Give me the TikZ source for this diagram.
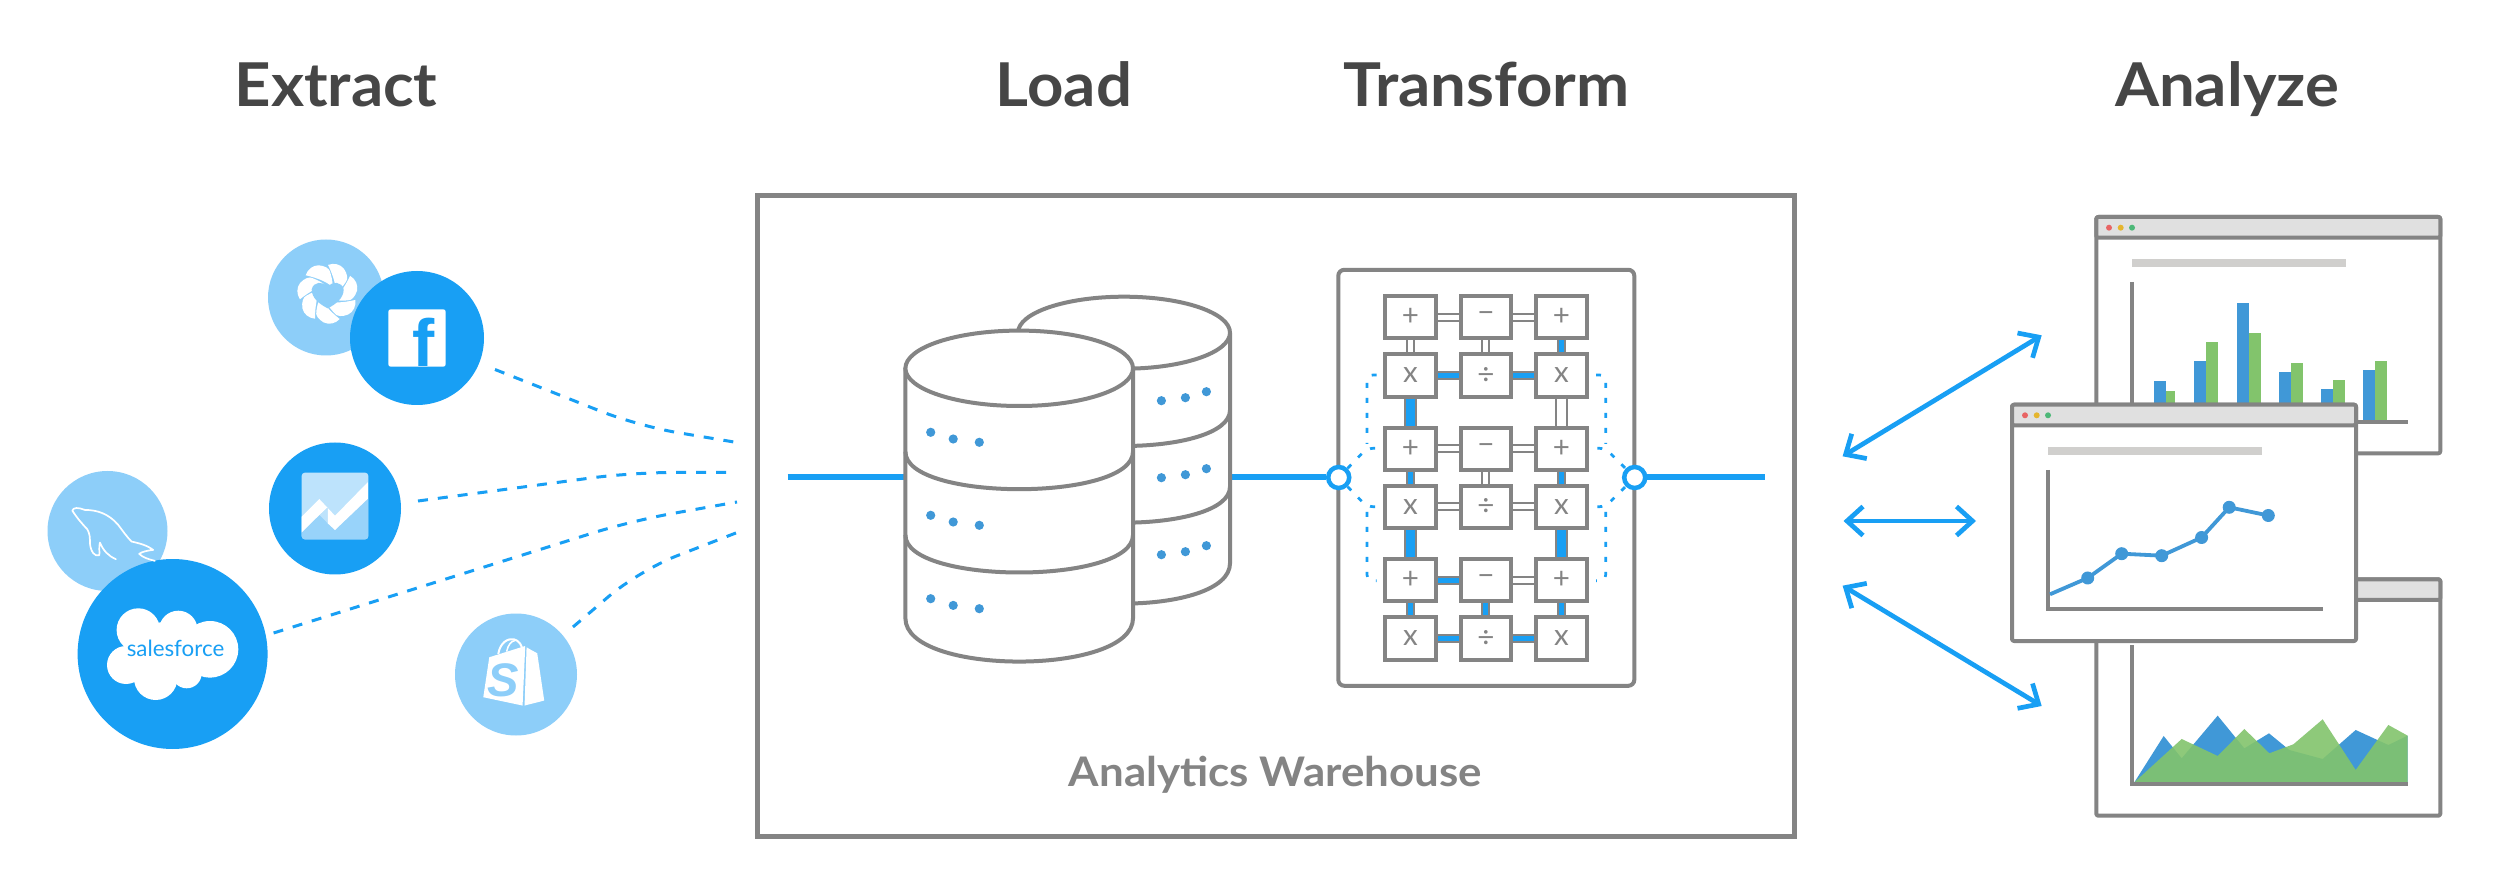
\documentclass[tikz,border=0pt]{standalone}
\usepackage{fontspec}
\setmainfont{Lato}
\newfontfamily\libsans{Liberation Sans}
\newfontfamily\headfont[FakeStretch=1.05]{Lato}
\newfontfamily\wfont[FakeStretch=1.076]{Lato}
\usetikzlibrary{arrows.meta,shapes.geometric}
\definecolor{skyb}{HTML}{189FF4}
\definecolor{lightb}{HTML}{8DCEF9}
\definecolor{paleb}{HTML}{BDE3FC}
\definecolor{gr}{HTML}{848484}
\definecolor{titlec}{HTML}{464646}
\definecolor{barb}{HTML}{4098D7}
\definecolor{barg}{HTML}{82C46C}
\definecolor{chrome}{HTML}{E0E0E0}
\definecolor{rulec}{HTML}{D0CFCD}
\definecolor{dotr}{HTML}{E86464}
\definecolor{doty}{HTML}{E5B52E}
\definecolor{dotg}{HTML}{4DB878}
\tikzset{
  titletext/.style={font=\headfont\bfseries\fontsize{17.2pt}{20pt}\selectfont,text=titlec,anchor=base,inner sep=0},
  wtext/.style={font=\wfont\bfseries\fontsize{11.6pt}{13pt}\selectfont,text=gr,anchor=base,inner sep=0},
  opbox/.style={draw=gr,fill=white,line width=.42mm,minimum width=5.03mm,minimum height=4.23mm,inner sep=0,text=gr,font=\fontsize{8.4pt}{9pt}\selectfont},
  wconn/.style={draw=gr,line width=.2mm,double=white,double distance=.5mm},
  bconn/.style={draw=gr,line width=.2mm,double=skyb,double distance=.5mm},
  wfat/.style={draw=gr,line width=.2mm,double=white,double distance=.9mm},
  bfat/.style={draw=gr,line width=.2mm,double=skyb,double distance=.9mm},
  srcdark/.style={circle,fill=skyb,inner sep=0},
  srclight/.style={circle,fill=lightb,inner sep=0},
  feed/.style={draw=skyb,line width=.3mm,dash pattern=on 1mm off 1mm,rounded corners=4mm},
  inner/.style={draw=skyb,line width=.27mm,dash pattern=on .5mm off 1mm,rounded corners=.6mm},
  flow/.style={draw=skyb,line width=.6mm},
  port/.style={circle,draw=skyb,fill=white,line width=.45mm,minimum size=2.1mm,inner sep=0},
  cyl/.style={draw=gr,fill=white,line width=.4mm,line join=round},
  winframe/.style={draw=gr,fill=white,line width=.4mm,line join=round},
  winbar/.style={draw=gr,fill=chrome,line width=.4mm,line join=round},
  axisline/.style={draw=gr,line width=.4mm},
  biarrow/.style={draw=skyb,line width=.47mm,{Straight Barb[length=1.6mm,width=2.9mm]}-{Straight Barb[length=1.6mm,width=2.9mm]}},
  tri/.style={shift={(2000,540)},xscale=.33333,yscale=.33333},
  trib/.style={shift={(2000,200)},xscale=.33333,yscale=.33333},
}
\begin{document}
\begin{tikzpicture}[x=.1mm,y=-.1mm]
\useasboundingbox (0,0) rectangle (2500,886);
\fill[white] (0,0) rectangle (2500,886);

% titles
\node[titletext] (tE) at (336,106.7) {Extract};
\node[titletext] (tL) at (1064,106.7) {Load};
\node[titletext] (tT) at (1486.6,106.7) {Transform};
\node[titletext] (tA) at (2227,106.7) {Analyze};

% warehouse
\node[draw=gr,line width=.5mm,minimum width=103.75mm,minimum height=64.07mm,inner sep=0] (wh) at (1275.75,516.35) {};
\node[wtext] (wl) at (1275.3,786) {Analytics Warehouse};

% source circles
\node[srclight,minimum size=11.6mm] (cFlower) at (326,297.5) {};
\node[srclight,minimum size=12mm] (cMy) at (107.5,531) {};
\node[srclight,minimum size=12.2mm] (cShop) at (516,674.5) {};
\node[srcdark,minimum size=13.4mm] (cFb) at (417,338) {};
\node[srcdark,minimum size=13.2mm] (cGa) at (335,508.5) {};
\node[srcdark,minimum size=19mm] (cSf) at (172.6,654) {};

% flower icon
\begin{scope}[shift={(327.7,293.3)}]
\foreach \k in {0,...,6}{
  \fill[white,rotate=\k*51.43] (-22,-18) .. controls (-20,-24) and (-15,-28) .. (-9,-28) .. controls (-3,-27.5) and (2,-25) .. (2.5,-21) .. controls (4,-16) and (5,-12) .. (5,-6) .. controls (0,-11) and (-9,-15) .. (-22,-18) -- cycle;
}
\fill[lightb] (0,-7) .. controls (-5,-12) and (-14,-12) .. (-16,-4) .. controls (-16,5) and (-8,11) .. (0,15) .. controls (8,11) and (16,5) .. (16,-4) .. controls (14,-12) and (5,-12) .. (0,-7) -- cycle;
\end{scope}

% facebook icon
\fill[white,rounded corners=.25mm] (388.3,309.3) rectangle (445.7,366.7);
\node[inner sep=0,anchor=base,text=skyb,font=\libsans\bfseries\fontsize{19pt}{20pt}\selectfont] (fbf) at (424,366.7) {f};

% analytics icon
\fill[paleb,rounded corners=.3mm] (301.7,472.7) rectangle (368.3,539.3);
\begin{scope}
\clip[rounded corners=.3mm] (301.7,472.7) rectangle (368.3,539.3);
\fill[lightb!90!white] (301.7,532.3) -- (319.3,515) -- (335,530) -- (368.3,498.3) -- (368.3,539.3) -- (301.7,539.3) -- cycle;
\fill[white] (301.7,516.7) -- (319.3,499) -- (335,515.7) -- (368.3,481.7) -- (368.3,498.3) -- (335,530) -- (327.7,523.3) -- (327.7,507.3) -- (319.3,515) -- (301.7,532.3) -- cycle;
\fill[paleb] (320,515) -- (327.7,507.3) -- (327.7,523.3) -- cycle;
\end{scope}

% mysql icon
\begin{scope}[shift={(40,460)},x=.0333mm,y=-.0333mm]
\draw[white,line width=.17mm,line cap=round,line join=round]
 (228,298) .. controls (205,288) and (190,272) .. (180,248) .. controls (176,262) and (180,280) .. (178,286)
 .. controls (165,292) and (152,275) .. (150,250) .. controls (150,232) and (150,222) .. (142,208)
 .. controls (125,190) and (112,175) .. (97,152) .. controls (100,142) and (115,142) .. (135,150)
 .. controls (170,150) and (205,160) .. (235,195) .. controls (250,215) and (262,232) .. (275,245)
 .. controls (300,250) and (325,258) .. (340,270) .. controls (322,272) and (305,276) .. (298,282)
 .. controls (308,292) and (325,298) .. (345,303);
\end{scope}

% salesforce icon
\begin{scope}
\fill[white] (138.3,630) circle [radius=21.7];
\fill[white] (178.3,630) circle [radius=19.3];
\fill[white] (210,649.3) circle [radius=28.3];
\fill[white] (126,665) circle [radius=19];
\fill[white] (155.7,678.3) circle [radius=21.7];
\fill[white] (186.7,673.3) circle [radius=15];
\fill[white] (165,652) circle [radius=30];
\end{scope}
\node[inner sep=0,anchor=base,text=skyb,font=\fontsize{6.35pt}{8pt}\selectfont] (sfl) at (175.5,656.7) {salesforce};

% shopify icon
\begin{scope}[shift={(450,610)},x=.0333mm,y=-.0333mm]
\fill[white] (118,142) -- (226,108) -- (218,287) -- (100,262) -- cycle;
\fill[white] (230,112) -- (240,118) -- (262,130) -- (283,272) -- (224,287) -- cycle;
\draw[white,line width=.2mm] (145,132) .. controls (150,100) and (172,84) .. (192,88) .. controls (208,92) and (216,106) .. (217,120);
\draw[white,line width=.15mm] (170,125) .. controls (174,105) and (185,92) .. (195,92);
\end{scope}
\node[inner sep=0,anchor=base,text=lightb,font=\libsans\bfseries\itshape\fontsize{13.4pt}{14pt}\selectfont] (shs) at (503.5,696) {S};

% feeds
\coordinate (f1a) at (495,369.5); \coordinate (f1b) at (638,426); \coordinate (f1c) at (740,443);
\coordinate (f2a) at (418,501);   \coordinate (f2b) at (632,472.5); \coordinate (f2c) at (734,472.5);
\coordinate (f3a) at (273.6,633); \coordinate (f3b) at (632,520.7); \coordinate (f3c) at (737,502);
\coordinate (f4a) at (573,627);   \coordinate (f4b) at (639,570.5); \coordinate (f4c) at (740,531.4);
\draw[feed] (f1a) -- (f1b) -- (f1c);
\draw[feed] (f2a) -- (f2b) -- (f2c);
\draw[feed] (f3a) -- (f3b) -- (f3c);
\draw[feed] (f4a) -- (f4b) -- (f4c);

% main flow
\coordinate (flowL) at (787.5,477.5);
\coordinate (flowR) at (1765,477.5);
\node[draw=gr,fill=white,line width=.4mm,rounded corners=.6mm,minimum width=29.6mm,minimum height=41.6mm,inner sep=0] (tbox) at (1486.3,477.8) {};
\node[port] (pL) at (1338.7,477.5) {};
\node[port] (pR) at (1634.7,477.5) {};
\draw[flow] (flowL) -- (pL);
\draw[flow] (pR) -- (flowR);

% back cylinder
\draw[cyl] (1018,332.7) -- (1018,563.3) .. controls (1018,617) and (1230,617) .. (1230,563.3) -- (1230,332.7) -- cycle;
\foreach \yy in {410,486.7}{
  \draw[cyl,fill=none] (1018,\yy) .. controls (1018,\yy+48) and (1230,\yy+48) .. (1230,\yy);
}
\draw[cyl] (1124,332.7) ellipse [x radius=106,y radius=36];
\foreach \yy in {0,77,154}{
  \fill[barb] (1161.4,400.7+\yy) circle [radius=4.6];
  \fill[barb] (1185.4,397.7+\yy) circle [radius=4.6];
  \fill[barb] (1206.4,391.7+\yy) circle [radius=4.6];
}
% front cylinder
\draw[cyl] (905.4,368.3) -- (905.4,618.3) .. controls (905.4,676) and (1133,676) .. (1133,618.3) -- (1133,368.3) -- cycle;
\foreach \yy in {451.7,535}{
  \draw[cyl,fill=none] (905.4,\yy) .. controls (905.4,\yy+50) and (1133,\yy+50) .. (1133,\yy);
}
\draw[cyl] (1019.2,368.3) ellipse [x radius=113.8,y radius=37.7];
\foreach \yy in {0,83,166.4}{
  \fill[barb] (930.7,432.3+\yy) circle [radius=4.6];
  \fill[barb] (953.2,439+\yy) circle [radius=4.6];
  \fill[barb] (979.3,442.3+\yy) circle [radius=4.6];
}

% operator grid
\node[opbox] (a1) at (1410.5,317.2) {+}; \node[opbox] (b1) at (1485.8,317.2) {−}; \node[opbox] (c1) at (1561.5,317.2) {+};
\node[opbox] (a2) at (1410.5,375.5) {x}; \node[opbox] (b2) at (1485.8,375.5) {÷}; \node[opbox] (c2) at (1561.5,375.5) {x};
\node[opbox] (a3) at (1410.5,448.8) {+}; \node[opbox] (b3) at (1485.8,448.8) {−}; \node[opbox] (c3) at (1561.5,448.8) {+};
\node[opbox] (a4) at (1410.5,506.8) {x}; \node[opbox] (b4) at (1485.8,506.8) {÷}; \node[opbox] (c4) at (1561.5,506.8) {x};
\node[opbox] (a5) at (1410.5,580.2) {+}; \node[opbox] (b5) at (1485.8,580.2) {−}; \node[opbox] (c5) at (1561.5,580.2) {+};
\node[opbox] (a6) at (1410.5,638.5) {x}; \node[opbox] (b6) at (1485.8,638.5) {÷}; \node[opbox] (c6) at (1561.5,638.5) {x};
\draw[wconn] (a1)--(b1); \draw[wconn] (b1)--(c1);
\draw[wconn] (a1)--(a2); \draw[wconn] (b1)--(b2); \draw[bconn] (c1)--(c2);
\draw[bconn] (a2)--(b2); \draw[bconn] (b2)--(c2);
\draw[bfat] (a2)--(a3); \draw[wfat] (c2)--(c3);
\draw[wconn] (a3)--(b3); \draw[wconn] (b3)--(c3);
\draw[bconn] (a3)--(a4); \draw[wconn] (b3)--(b4); \draw[bconn] (c3)--(c4);
\draw[wconn] (a4)--(b4); \draw[wconn] (b4)--(c4);
\draw[bfat] (a4)--(a5); \draw[bfat] (c4)--(c5);
\draw[bconn] (a5)--(b5); \draw[wconn] (b5)--(c5);
\draw[bconn] (a5)--(a6); \draw[bconn] (b5)--(b6); \draw[bconn] (c5)--(c6);
\draw[bconn] (a6)--(b6); \draw[bconn] (b6)--(c6);

% inner dashed routes
\coordinate (lt) at (1376.7,375); \coordinate (ltb) at (1367,375); \coordinate (ltc) at (1367,444);
\coordinate (lm1) at (1375,448.3); \coordinate (lm1b) at (1367,448.3);
\coordinate (lm2) at (1375,506.7); \coordinate (lm2b) at (1367,506.7);
\coordinate (lbs) at (1367,512); \coordinate (lbb) at (1367,580.7); \coordinate (lb) at (1376.7,580.7);
\draw[inner] (lt) -- (ltb) -- (ltc);
\draw[inner] (lm1) -- (lm1b) -- (pL);
\draw[inner] (lm2) -- (lm2b) -- (pL);
\draw[inner] (lbs) -- (lbb) -- (lb);
\coordinate (rt) at (1596,375); \coordinate (rtb) at (1605.7,375); \coordinate (rtc) at (1605.7,444);
\coordinate (rm1) at (1597.3,448.3); \coordinate (rm1b) at (1605.3,448.3);
\coordinate (rm2) at (1597.3,506.7); \coordinate (rm2b) at (1605.3,506.7);
\coordinate (rbs) at (1605.7,512); \coordinate (rbb) at (1605.7,580.7); \coordinate (rb) at (1596,580.7);
\draw[inner] (rt) -- (rtb) -- (rtc);
\draw[inner] (rm1) -- (rm1b) -- (pR);
\draw[inner] (rm2) -- (rm2b) -- (pR);
\draw[inner] (rbs) -- (rbb) -- (rb);

% window 3 (area)
\draw[winframe,rounded corners=.2mm] (2096.3,579.3) rectangle (2440.3,815.7);
\draw[winbar,rounded corners=.2mm] (2096.3,579.3) rectangle (2440.3,600);
\begin{scope}[tri]
\fill[barb] (403,727) -- (491,588) -- (545,655) -- (653,527) -- (733,625) -- (807,580) -- (868,630) -- (968,657) -- (1067,570) -- (1165,615) -- (1223,587) -- (1223,727) -- cycle;
\fill[barg,fill opacity=.9] (403,727) -- (545,597) -- (653,648) -- (733,567) -- (808,640) -- (880,613) -- (968,538) -- (1067,690) -- (1165,555) -- (1223,587) -- (1223,727) -- cycle;
\end{scope}
\draw[axisline] (2132,645) -- (2132,784.3) -- (2407.7,784.3);

% window 1 (bars)
\draw[winframe,rounded corners=.2mm] (2096.3,217) rectangle (2440.3,453.3);
\draw[winbar,rounded corners=.2mm] (2096.3,217) rectangle (2440.3,237.7);
\fill[dotr] (2109,227.7) circle [radius=3];
\fill[doty] (2120.7,227.7) circle [radius=3];
\fill[dotg] (2132,227.7) circle [radius=3];
\fill[rulec] (2132,259) rectangle (2345.7,267);
\begin{scope}[trib]
\foreach \xa/\xb/\xc/\ta/\tb in {462/499/526/544/572,582/618/654/483/427,710/746/782/308/399,837/873/909/516/488,964/1000/1036/567/539,1088/1124/1160/511/484}{
  \fill[barb] (\xa,\ta) rectangle (\xb,662);
  \fill[barg] (\xb,\tb) rectangle (\xc,662);
}
\end{scope}
\draw[axisline] (2132,282) -- (2132,421.7) -- (2407.7,421.7);

% window 2 (line)
\draw[winframe,rounded corners=.2mm] (2012,404.7) rectangle (2356,641);
\draw[winbar,rounded corners=.2mm] (2012,404.7) rectangle (2356,425.3);
\fill[dotr] (2025,415.3) circle [radius=3];
\fill[doty] (2036.7,415.3) circle [radius=3];
\fill[dotg] (2048,415.3) circle [radius=3];
\fill[rulec] (2048,446.7) rectangle (2261.7,454.7);
\draw[axisline] (2048,470) -- (2048,609.3) -- (2323.3,609.3);
\coordinate (l0) at (2050,594.3);
\coordinate (l1) at (2087.7,578);
\coordinate (l2) at (2121.7,553.7);
\coordinate (l3) at (2161.7,555.7);
\coordinate (l4) at (2201.6,537.5);
\coordinate (l5) at (2229.2,507.3);
\coordinate (l6) at (2268.3,515.5);
\draw[barb,line width=.38mm] (l0)--(l1)--(l2)--(l3)--(l4)--(l5)--(l6);
\foreach \p in {l1,l2,l3,l4,l5,l6}{\fill[barb] (\p) circle [radius=6.5];}

% arrows
\coordinate (a1s) at (1842.6,456.3); \coordinate (a1e) at (2041.7,335.3);
\coordinate (a2s) at (1843.5,521);   \coordinate (a2e) at (1976,521);
\coordinate (a3s) at (1842.6,585.7); \coordinate (a3e) at (2041.7,706);
\draw[biarrow] (a1s) -- (a1e);
\draw[biarrow] (a2s) -- (a2e);
\draw[biarrow] (a3s) -- (a3e);
\end{tikzpicture}
\end{document}
